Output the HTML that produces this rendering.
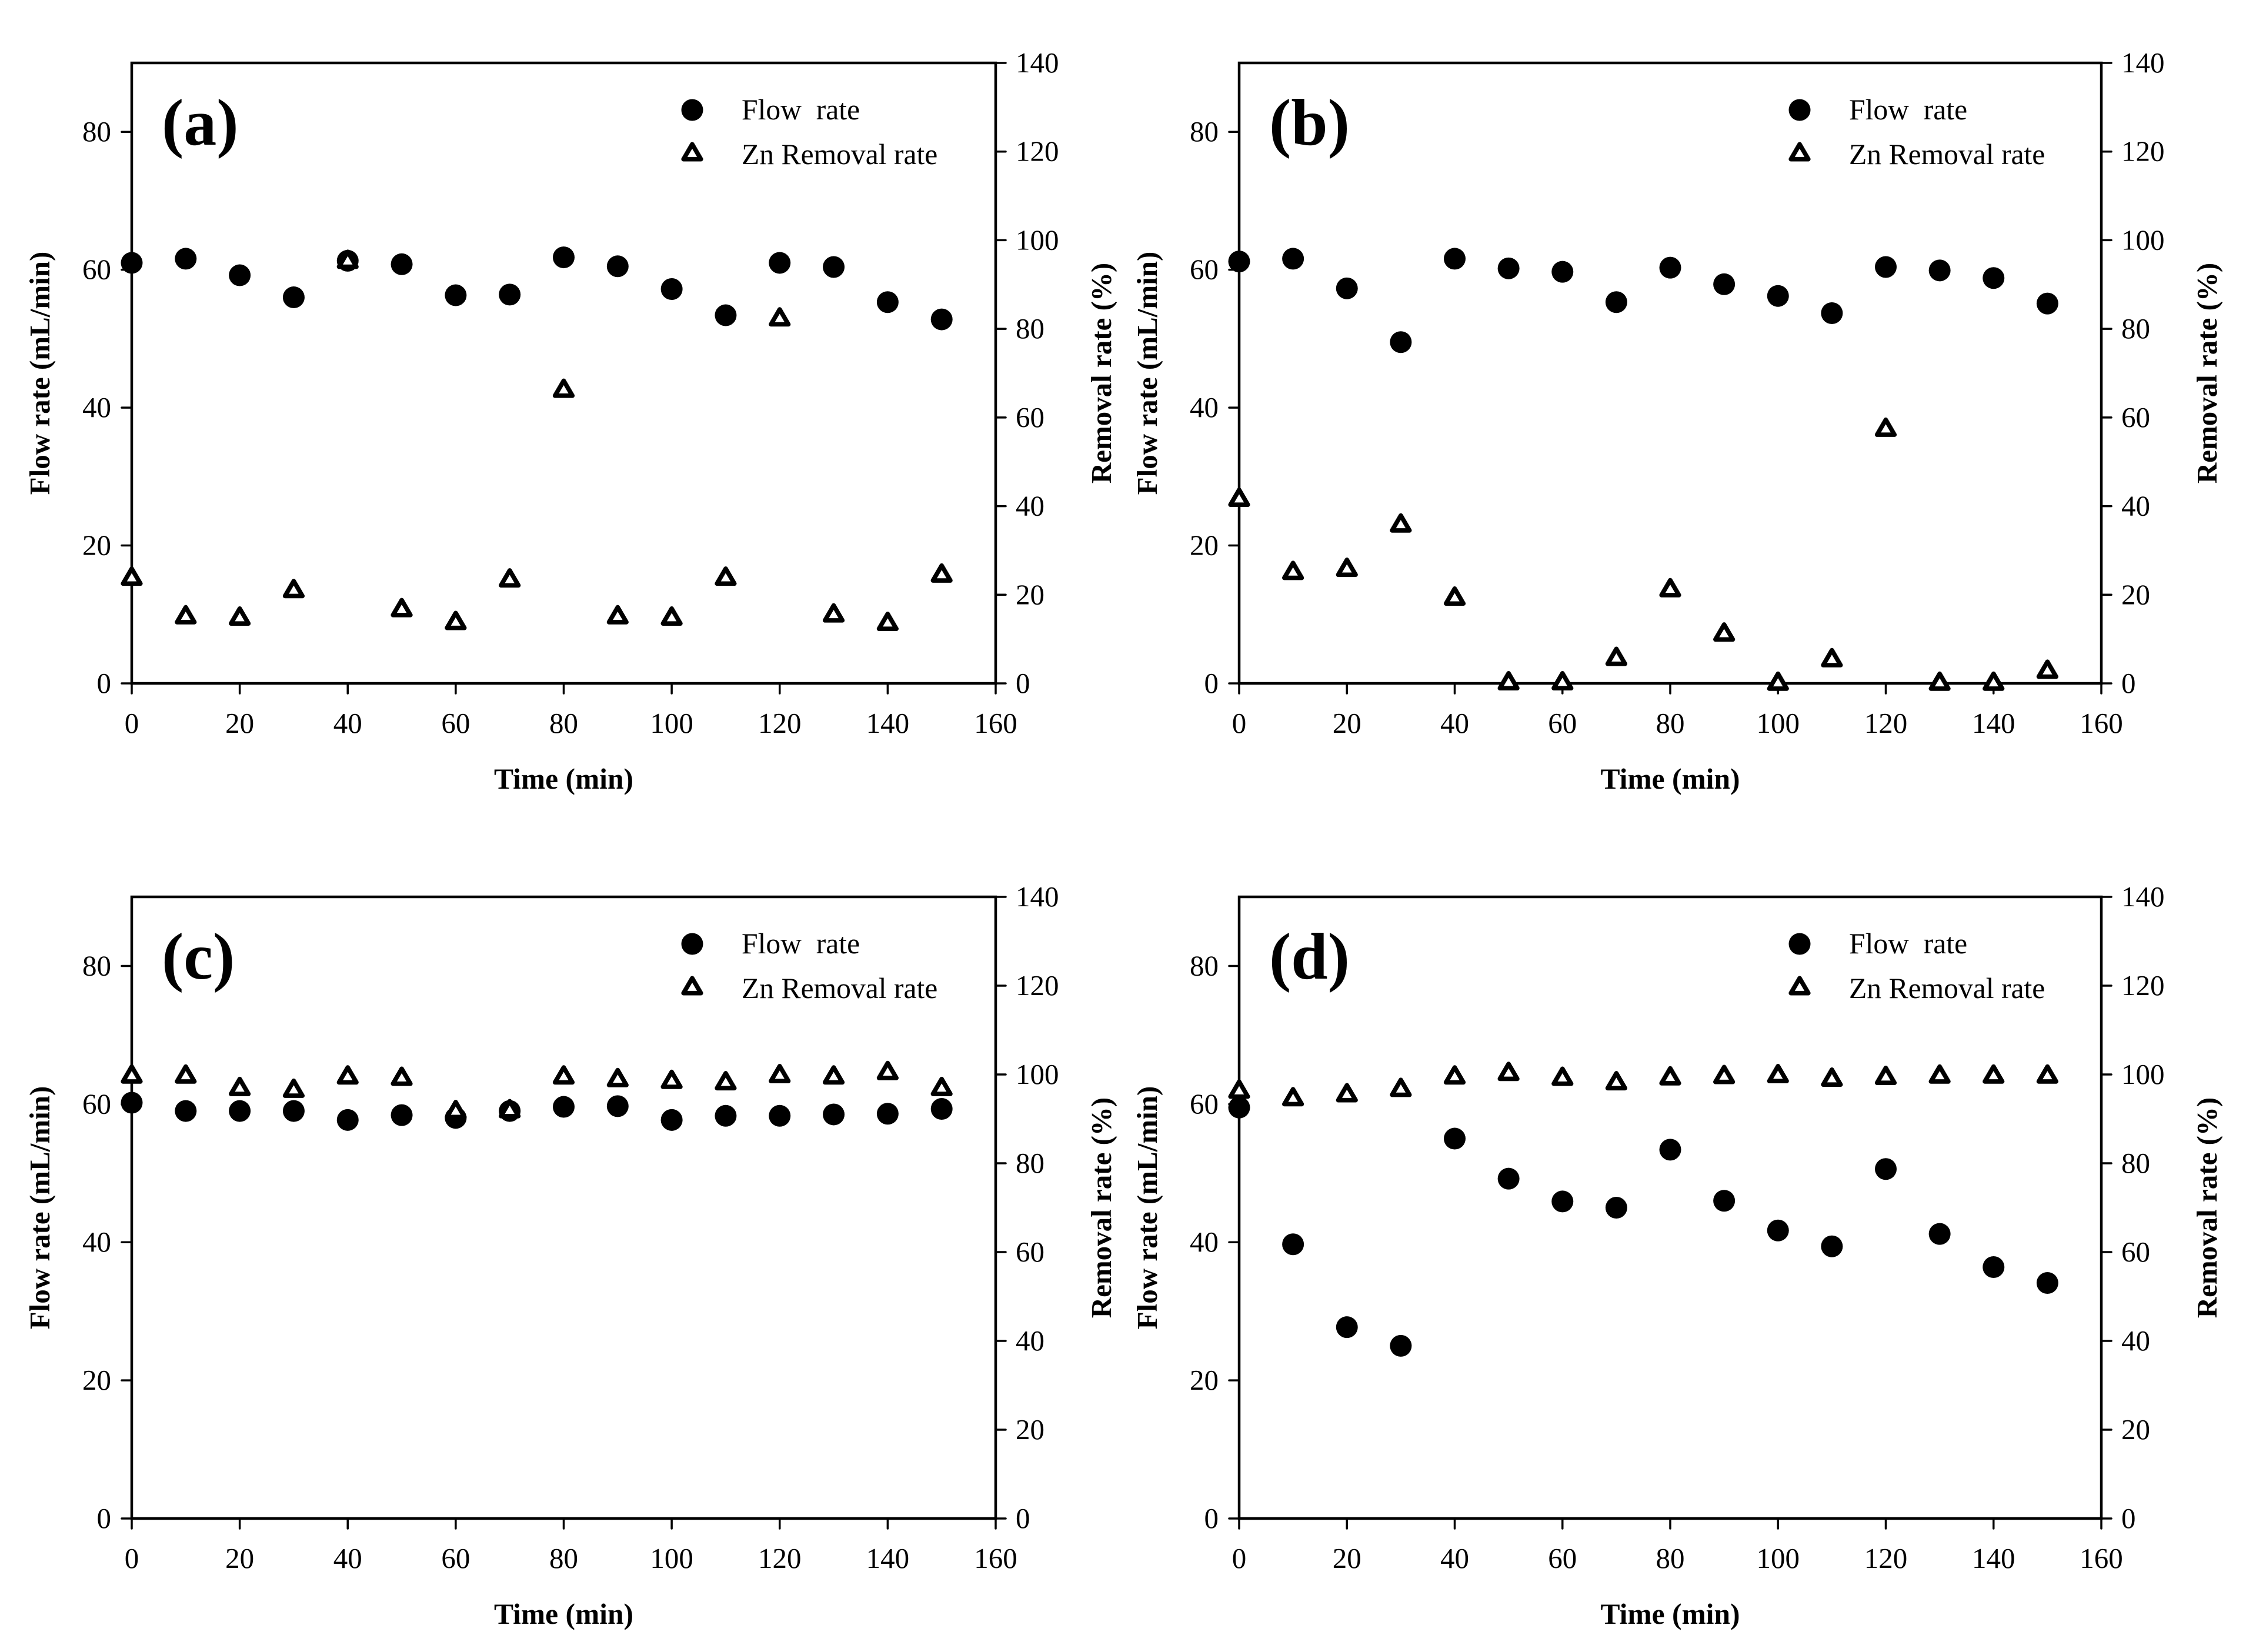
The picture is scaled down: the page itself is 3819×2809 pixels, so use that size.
<!DOCTYPE html>
<html>
<head>
<meta charset="utf-8">
<title>Flow rate and Zn removal rate over time</title>
<style>
html,body{margin:0;padding:0;background:#fff;}
svg{display:block;}
text{font-family:"Liberation Serif",serif;fill:#000;white-space:pre;}
</style>
</head>
<body>
<svg id="chart" xmlns="http://www.w3.org/2000/svg" width="3819" height="2809" viewBox="0 0 3819 2809">
<rect x="0" y="0" width="3819" height="2809" fill="#fff"/>
</svg>
<script>
const times = [0,10,20,30,40,50,60,70,80,90,100,110,120,130,140,150];
const xTickLabels = [0,20,40,60,80,100,120,140,160];
const flowTickLabels = [0,20,40,60,80];
const removalTickLabels = [0,20,40,60,80,100,120,140];
const xMax = 160;
const flowMax = 90;
const removalMax = 140;

const flowA = [61,61.6,59.2,56,61.3,60.8,56.3,56.4,61.8,60.5,57.2,53.4,61,60.4,55.3,52.8];
const removalA = [24.2,15.5,15.2,21.4,95.7,17.1,14.2,23.8,66.6,15.5,15.2,24.2,82.7,15.9,14,24.9];
const flowB = [61.2,61.6,57.3,49.5,61.6,60.2,59.7,55.3,60.3,57.9,56.2,53.7,60.4,59.9,58.8,55.1];
const removalB = [42,25.5,26.2,36.2,19.7,0.6,0.6,6.1,21.6,11.6,0.5,5.8,57.8,0.5,0.5,3.2];
const flowC = [60.2,59,59,59,57.7,58.4,58,59,59.6,59.7,57.7,58.3,58.3,58.5,58.6,59.3];
const removalC = [100.1,100.1,97.3,96.9,99.9,99.6,92.1,92.3,99.9,99.3,98.9,98.6,100.2,99.9,100.9,97.3];
const flowD = [59.5,39.7,27.7,25,55,49.2,45.9,45,53.4,46,41.7,39.4,50.6,41.2,36.4,34.1];
const removalD = [96.7,95,95.9,97.1,99.9,100.7,99.6,98.6,99.7,100,100.2,99.4,99.8,100.1,100.1,100.1];

const NS = 'http://www.w3.org/2000/svg';
const svg = document.getElementById('chart');

function make(parent, tag, attrs, content) {
  const el = document.createElementNS(NS, tag);
  for (const k in attrs) el.setAttribute(k, attrs[k]);
  if (content !== undefined) el.textContent = content;
  parent.appendChild(el);
  return el;
}

function triangle(parent, cx, cy) {
  return make(parent, 'polygon', {
    points: [[cx, cy-12.7],[cx+14.8, cy+12.7],[cx-14.8, cy+12.7]].map(p => p.join(',')).join(' '),
    fill: '#fff', stroke: '#000', 'stroke-width': 7.6, 'stroke-linejoin': 'round'
  });
}

function drawPanel(letter, flow, removal, left, right, top, bottom) {
  const sx = v => left + (v / xMax) * (right - left);
  const syFlow = v => bottom - (v / flowMax) * (bottom - top);
  const syRem = v => bottom - (v / removalMax) * (bottom - top);

  const g = make(svg, 'g', {});
  
  

  const frame = make(g, 'rect', {x:left, y:top, width:right-left, height:bottom-top, fill:'none', stroke:'#000', 'stroke-width':4.5});
  
  

  for (const t of flowTickLabels) {
    const y = syFlow(t);
    const tick = make(g, 'line', {x1:left-17, x2:left, y1:y, y2:y, stroke:'#000', 'stroke-width':3.5, 'stroke-linecap':'round'});
    
    
    const label = make(g, 'text', {x:left-35, y:y+16, 'font-size':49, 'text-anchor':'end'}, t);
    
    
  }
  for (const t of removalTickLabels) {
    const y = syRem(t);
    const tick = make(g, 'line', {x1:right, x2:right+17, y1:y, y2:y, stroke:'#000', 'stroke-width':3.5, 'stroke-linecap':'round'});
    
    
    const label = make(g, 'text', {x:right+34, y:y+16, 'font-size':49}, t);
    
    
  }
  for (const t of xTickLabels) {
    const x = sx(t);
    const tick = make(g, 'line', {x1:x, x2:x, y1:bottom, y2:bottom+17, stroke:'#000', 'stroke-width':3.5, 'stroke-linecap':'round'});
    
    
    const label = make(g, 'text', {x:x, y:bottom+84, 'font-size':49, 'text-anchor':'middle'}, t);
    
    
  }

  const xTitle = make(g, 'text', {x:(left+right)/2, y:bottom+179, 'font-size':49.5, 'font-weight':'bold', 'text-anchor':'middle'}, 'Time (min)');
  
  

  const lx = left - 140, ly = (top + bottom) / 2;
  const flowTitle = make(g, 'text', {x:lx, y:ly, 'font-size':49, 'font-weight':'bold', 'text-anchor':'middle', transform:'rotate(-90 '+lx+' '+ly+')'}, 'Flow rate (mL/min)');
  
  

  const rx = right + 196, ry = (top + bottom) / 2;
  const remTitle = make(g, 'text', {x:rx, y:ry, 'font-size':49, 'font-weight':'bold', 'text-anchor':'middle', transform:'rotate(-90 '+rx+' '+ry+')'}, 'Removal rate (%)');
  
  

  const tag = make(g, 'text', {x:left+51, y:top+139, 'font-size':112, 'font-weight':'bold'}, '(' + letter + ')');
  
  

  times.forEach((t, i) => {
    const c = make(g, 'circle', {cx:sx(t), cy:syFlow(flow[i]), r:18.5, fill:'#000'});
    
    
  });
  times.forEach((t, i) => {
    const m = triangle(g, sx(t), syRem(removal[i]));
    
    
  });

  const legend = make(g, 'g', {});
  
  
  const lcx = left + 953;
  const legendCircle = make(legend, 'circle', {cx:lcx, cy:top+80, r:18.5, fill:'#000'});
  
  
  const legendFlow = make(legend, 'text', {x:left+1037, y:top+96, 'font-size':49.6}, 'Flow  rate');
  
  
  const legendTri = triangle(legend, lcx, top+151);
  
  
  const legendRem = make(legend, 'text', {x:left+1037, y:top+172, 'font-size':49.6}, 'Zn Removal rate');
  
  
}

drawPanel('a', flowA, removalA, 224, 1693, 107, 1162);
drawPanel('b', flowB, removalB, 2107, 3573, 107, 1162);
drawPanel('c', flowC, removalC, 224, 1693, 1525, 2582);
drawPanel('d', flowD, removalD, 2107, 3573, 1525, 2582);
</script>
</body>
</html>
